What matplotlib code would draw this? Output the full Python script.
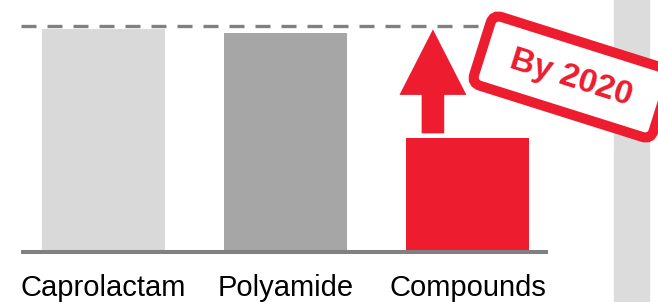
import matplotlib
matplotlib.use("Agg")
from matplotlib import pyplot as plt
from matplotlib.patches import FancyBboxPatch, Rectangle
from matplotlib.transforms import Affine2D

plt.rcParams['font.family'] = ['Liberation Sans', 'DejaVu Sans']

categories = ["Caprolactam", "Polyamide", "Compounds"]
values = [98.7, 96.9, 50.4]
target = 100
arrow_tip = 98.5
bar_colors = ["#d9d9d9", "#a6a6a6", "#ed1c2e"]
red = "#ed1c2e"
stamp_text = "By 2020"

fig = plt.figure(figsize=(6.58, 3.02), dpi=100)
ax = fig.add_axes([21 / 658, 50 / 302, 527 / 658, 252 / 302])
x = list(range(len(categories)))
ax.bar(x, values, width=0.676, color=bar_colors, zorder=2)
ax.set_xlim(-0.4533, 2.4423)
ax.set_ylim(0, 111.5)

# baseline and target line
ax.axhline(0, color="#808080", lw=2.9, solid_capstyle="butt", clip_on=False, zorder=3)
ax.axhline(target, xmin=0, xmax=0.867, color="#808080", lw=2.4,
           linestyle=(0, (4.5, 3.3)), clip_on=False, zorder=1)

# growth arrow above the compounds bar
ax.arrow(1.81, values[2] + 2.1, 0, arrow_tip - values[2] - 2.1, width=0.124,
         head_width=0.368, head_length=29.0, length_includes_head=True,
         color=red, lw=0, zorder=3)

ax.set_xticks(x)
ax.set_xticklabels(categories, fontsize=21)
ax.tick_params(axis="x", length=0, pad=16)
ax.set_yticks([])
for s in ax.spines.values():
    s.set_visible(False)

# overlay in pixel units for the stamp and side panel
ov = fig.add_axes([0, 0, 1, 1], zorder=5)
ov.set_xlim(0, 658)
ov.set_ylim(302, 0)
ov.axis("off")
ov.add_patch(Rectangle((614, 0), 35, 302, color="#dcdcdc", zorder=0))

cx, cy = 572, 77
w, h = 188, 72
rot = Affine2D().rotate_deg_around(cx, cy, 17.5) + ov.transData
stamp = FancyBboxPatch((cx - w / 2, cy - h / 2), w, h,
                       boxstyle="round,pad=0,rounding_size=9",
                       facecolor="white", edgecolor=red, lw=7.2,
                       transform=rot, zorder=2, clip_on=False)
ov.add_patch(stamp)
ov.text(cx - 1, cy + 1, stamp_text, color=red, fontsize=24, fontweight="bold",
        rotation=-17.5, rotation_mode="anchor", ha="center", va="center", zorder=3)

plt.savefig("out.png", dpi=100)
